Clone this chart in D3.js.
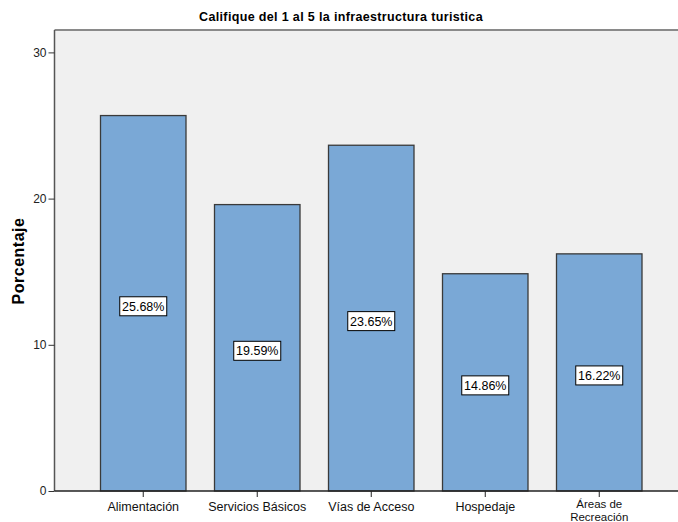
<!DOCTYPE html>
<html>
<head>
<meta charset="utf-8">
<script src="https://cdn.jsdelivr.net/npm/d3@7"></script>
<style>
  html, body { margin: 0; padding: 0; background: #ffffff; }
  svg { display: block; font-family: Arial, "Liberation Sans", sans-serif; }
</style>
</head>
<body>
<svg id="chart" width="678" height="522"></svg>
<script>
// Calificación de la infraestructura turística (porcentaje por categoría)
const categories = ["Alimentación", "Servicios Básicos", "Vías de Acceso", "Hospedaje", "Áreas de Recreación"];
const values = [25.68, 19.59, 23.65, 14.86, 16.22];
const yTicks = [0, 10, 20, 30];
const title = "Califique del 1 al 5 la infraestructura turistica";
const yTitle = "Porcentaje";

const svg = d3.select("#chart");
const plot = { left: 54.5, right: 678, top: 30, bottom: 491 };

const x = d3.scaleBand()
  .domain(categories)
  .range([plot.left, 688])
  .paddingInner(0.25)
  .paddingOuter(0.4035);

const y = d3.scaleLinear()
  .domain([0, 30])
  .range([plot.bottom, plot.bottom - 438.6]);

// plot background
svg.append("rect")
  .attr("x", plot.left).attr("y", plot.top)
  .attr("width", plot.right - plot.left).attr("height", plot.bottom - plot.top)
  .attr("fill", "#f0f0f0");
svg.append("line")
  .attr("x1", plot.left).attr("x2", plot.right)
  .attr("y1", plot.top).attr("y2", plot.top)
  .attr("stroke", "#8a8a8a").attr("stroke-width", 2);

// bars
svg.append("g").selectAll("rect")
  .data(values)
  .join("rect")
  .attr("x", (d, i) => x(categories[i]))
  .attr("y", d => y(d))
  .attr("width", x.bandwidth())
  .attr("height", d => y(0) - y(d))
  .attr("fill", "#7aa8d6")
  .attr("stroke", "#3a3a3a")
  .attr("stroke-width", 1.3);

// value labels
const labels = svg.append("g").selectAll("g")
  .data(values)
  .join("g")
  .attr("transform", (d, i) => `translate(${x(categories[i]) + x.bandwidth() / 2},${y(d / 2) + 3})`);
labels.append("rect")
  .attr("x", -23.5).attr("y", -9.5)
  .attr("width", 47).attr("height", 19)
  .attr("fill", "#ffffff")
  .attr("stroke", "#000000").attr("stroke-width", 1);
labels.append("text")
  .attr("text-anchor", "middle")
  .attr("dy", "0.36em")
  .attr("font-size", 12.5)
  .attr("fill", "#000")
  .text(d => d.toFixed(2) + "%");

// y axis
const yAxis = svg.append("g")
  .attr("transform", `translate(${plot.left},0)`)
  .call(d3.axisLeft(y).tickValues(yTicks).tickSize(6).tickPadding(2).tickFormat(d3.format("d")));
yAxis.select(".domain").attr("stroke", "#555").attr("stroke-width", 1.5).attr("d", `M0,${plot.top}V${plot.bottom}`);
yAxis.selectAll(".tick line").attr("stroke", "#333");
yAxis.selectAll(".tick text").attr("font-size", 12).attr("fill", "#222").attr("font-family", "Arial, 'Liberation Sans', sans-serif");

// x axis
const xAxis = svg.append("g")
  .attr("transform", `translate(0,${plot.bottom})`)
  .call(d3.axisBottom(x).tickSize(6).tickPadding(4).tickFormat(""));
xAxis.select(".domain").attr("stroke", "#222").attr("stroke-width", 1.3).attr("d", `M${plot.left},0H${plot.right}`);
xAxis.selectAll(".tick line").attr("stroke", "#222");
xAxis.selectAll(".tick").each(function(d) {
  const words = d === "Áreas de Recreación" ? ["Áreas de", "Recreación"] : [d];
  const t = d3.select(this).append("text")
    .attr("text-anchor", "middle")
    .attr("font-size", words.length > 1 ? 11.5 : 12.5)
    .attr("fill", "#111")
    .attr("font-family", "Arial, 'Liberation Sans', sans-serif");
  words.forEach((w, k) => t.append("tspan").attr("x", 0).attr("y", (words.length > 1 ? 17 : 19.5) + k * 12.5).text(w));
});

// titles
svg.append("text")
  .attr("x", 341).attr("y", 21)
  .attr("text-anchor", "middle")
  .attr("font-size", 12.5).attr("font-weight", "bold")
  .attr("letter-spacing", 0.35)
  .text(title);
svg.append("text")
  .attr("transform", `translate(24,261) rotate(-90)`)
  .attr("text-anchor", "middle")
  .attr("font-size", 16).attr("font-weight", "bold")
  .attr("letter-spacing", 0.5)
  .text(yTitle);
</script>
</body>
</html>
